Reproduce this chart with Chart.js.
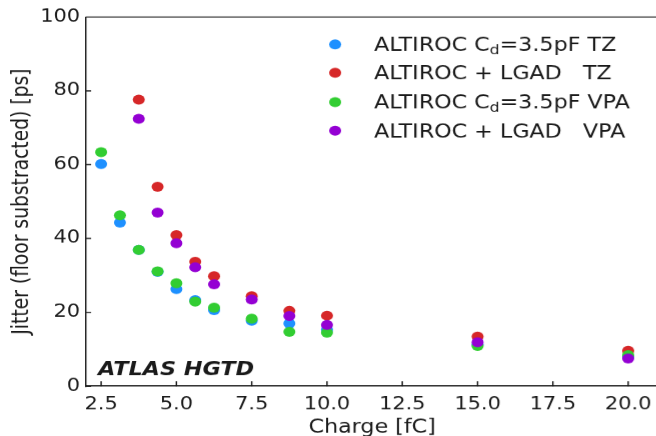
<!DOCTYPE html>
<html>
<head>
<meta charset="utf-8">
<script src="https://cdn.jsdelivr.net/npm/chart.js@4.4.1/dist/chart.umd.min.js"></script>
<style>
  html, body { margin: 0; padding: 0; background: #fff; overflow: hidden; width: 656px; height: 436px; }
  #wrap { width: 556px; height: 436px; transform: scaleX(1.2); transform-origin: 0 0; }
</style>
</head>
<body>
<div id="wrap"><canvas id="chart" width="556" height="436"></canvas></div>
<script>
// ---- data ----
const charge = [2.5, 3.125, 3.75, 4.375, 5.0, 5.625, 6.25, 7.5, 8.75, 10, 15, 20];
const cdTZ   = [60.2, 44.3, 36.9, 31.0, 26.3, 23.3, 20.6, 17.7, 17.0, 15.3, 11.3, 8.0];
const lgadTZ = [null, null, 77.6, 54.0, 40.9, 33.7, 29.8, 24.4, 20.4, 19.1, 13.4, 9.6];
const cdVPA  = [63.4, 46.3, 36.9, 31.1, 27.9, 22.9, 21.3, 18.3, 14.7, 14.5, 10.9, 8.4];
const lgadVPA= [null, null, 72.4, 47.0, 38.7, 32.2, 27.6, 23.5, 19.0, 16.6, 11.9, 7.5];

const xTicks = [2.5, 5.0, 7.5, 10.0, 12.5, 15.0, 17.5, 20.0];
const yTicks = [0, 20, 40, 60, 80, 100];

const FONT = "'DejaVu Sans', sans-serif";
const INK = '#1a1a1a';

const series = [
    { pre: 'ALTIROC C', sub: 'd', post: '=3.5pF TZ',  data: cdTZ,    color: '#1e90ff' },
    { pre: 'ALTIROC + LGAD   TZ', sub: '', post: '',  data: lgadTZ,  color: '#d62728' },
    { pre: 'ALTIROC C', sub: 'd', post: '=3.5pF VPA', data: cdVPA,   color: '#32cd32' },
    { pre: 'ALTIROC + LGAD   VPA', sub: '', post: '', data: lgadVPA, color: '#9400d3' }
];

function toPoints(ys) {
    const pts = [];
    charge.forEach((x, i) => { if (ys[i] !== null) pts.push({ x, y: ys[i] }); });
    return pts;
}

// inward ticks, top frame, legend, label
const decor = {
    id: 'decor',
    afterDraw(chart) {
        const { ctx, chartArea: a, scales: { x, y } } = chart;
        ctx.save();
        ctx.strokeStyle = INK;
        ctx.lineWidth = 1.2;
        ctx.beginPath();
        ctx.moveTo(a.left, a.top); ctx.lineTo(a.right + 5, a.top);
        xTicks.forEach(v => { const p = x.getPixelForValue(v); ctx.moveTo(p, a.bottom); ctx.lineTo(p, a.bottom - 5); });
        yTicks.forEach(v => { const p = y.getPixelForValue(v); ctx.moveTo(a.left, p); ctx.lineTo(a.left + 4.2, p); });
        ctx.stroke();

        // legend
        ctx.textBaseline = 'alphabetic';
        const rows = [44.3, 72.7, 102, 130.7];
        series.forEach((s, i) => {
            const cy = rows[i];
            ctx.fillStyle = s.color;
            ctx.beginPath(); ctx.arc(279.2, cy, 5, 0, Math.PI * 2); ctx.fill();
            ctx.fillStyle = INK;
            let tx = 311.7;
            const base = cy + 6.7;
            ctx.font = '18.5px ' + FONT;
            ctx.fillText(s.pre, tx, base);
            tx += ctx.measureText(s.pre).width;
            if (s.sub) {
                ctx.font = '13px ' + FONT;
                ctx.fillText(s.sub, tx, base + 3);
                tx += ctx.measureText(s.sub).width;
                ctx.font = '18.5px ' + FONT;
                ctx.fillText(s.post, tx, base);
            }
        });

        ctx.fillStyle = INK;
        ctx.font = 'italic bold 18.6px ' + FONT;
        ctx.fillText('ATLAS HGTD', 81.7, 375);
        ctx.restore();
    }
};

new Chart(document.getElementById('chart'), {
    type: 'scatter',
    data: {
        datasets: series.map((s, i) => ({
            label: s.pre + s.sub + s.post,
            data: toPoints(s.data),
            order: -i,
            backgroundColor: s.color,
            borderColor: s.color,
            borderWidth: 0,
            pointRadius: 5,
            pointHoverRadius: 5
        }))
    },
    options: {
        responsive: false,
        devicePixelRatio: 1.2,
        animation: false,
        layout: { padding: { top: 17, right: 7.6, left: 0, bottom: 0 } },
        plugins: { legend: { display: false }, tooltip: { enabled: false } },
        scales: {
            x: {
                min: 2, max: 21,
                grid: { display: false, drawTicks: false },
                border: { display: true, color: INK, width: 1.2 },
                afterBuildTicks: s => { s.ticks = xTicks.map(v => ({ value: v })); },
                afterFit: s => { s.height = 50; },
                ticks: { color: INK, padding: 8, font: { family: FONT, size: 17.4 }, callback: v => Number(v).toFixed(1), maxRotation: 0, autoSkip: false },
                title: { display: true, text: 'Charge [fC]', color: INK, font: { family: FONT, size: 18.5 }, padding: { top: 0, bottom: -3 } }
            },
            y: {
                min: 0, max: 100,
                grid: { display: false, drawTicks: false },
                border: { display: true, color: INK, width: 1.2 },
                afterBuildTicks: s => { s.ticks = yTicks.map(v => ({ value: v })); },
                afterFit: s => { s.width = 71.7; },
                ticks: { color: INK, padding: 5, font: { family: FONT, size: 17.4 } },
                title: { display: true, text: 'Jitter (floor substracted) [ps]', color: INK, font: { family: FONT, size: 18.7 }, padding: { top: 7, bottom: 0 } }
            }
        }
    },
    plugins: [decor]
});
</script>
</body>
</html>
